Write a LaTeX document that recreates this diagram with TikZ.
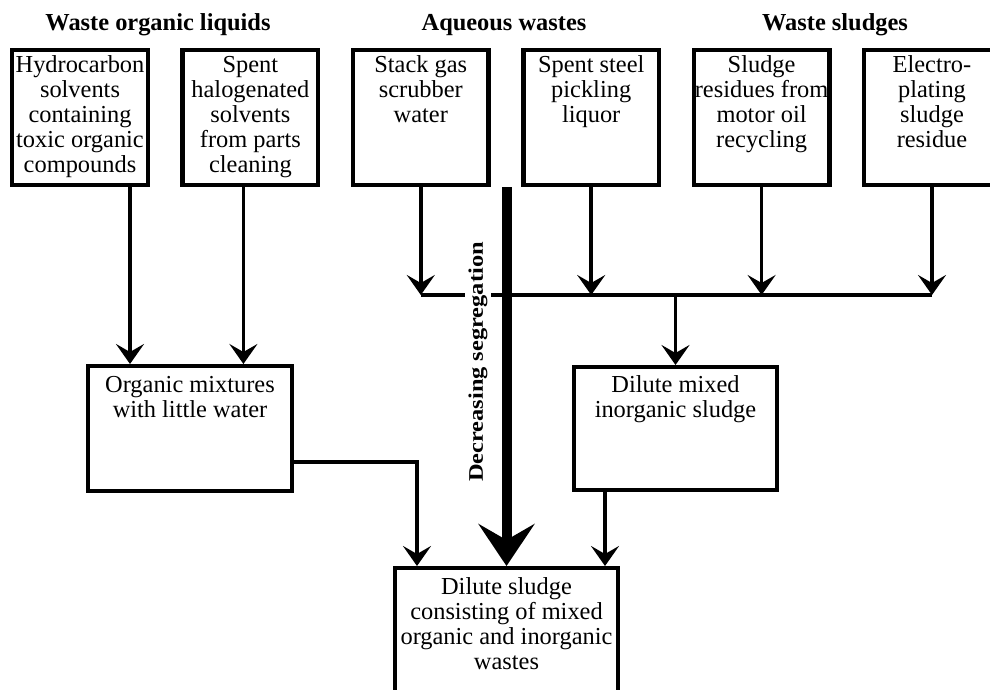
\documentclass[tikz,border=0pt]{standalone}
\usepackage{fontspec}
\setmainfont{Liberation Serif}
\usetikzlibrary{arrows.meta,positioning}
\newcommand{\boxtext}[3]{\parbox[t][#2][t]{#1}{\centering\strut #3}}
\tikzset{
  wastebox/.style={draw=black, line width=2.2pt, inner xsep=0pt, fill=none},
  source/.style={wastebox, inner ysep=2.65pt},
  heading/.style={anchor=base, font=\fontsize{12.2pt}{12.5pt}\selectfont\bfseries},
  flow/.style={-{Stealth[length=10pt, width=14pt, inset=4pt]}, line width=1.8pt, draw=black},
  bus/.style={line width=1.8pt, draw=black},
  bigflow/.style={-{Stealth[length=21pt, width=28pt, inset=8pt]}, line width=5pt, draw=black},
  seglabel/.style={rotate=90, fill=white, inner sep=2pt, font=\fontsize{12.2pt}{12.5pt}\selectfont\bfseries}
}
\begin{document}
\begin{tikzpicture}[x=0.5pt, y=-0.5pt, node distance=15.2pt, font=\fontsize{12.2pt}{12.5pt}\selectfont]
  \useasboundingbox (0,0) rectangle (990,690);
  % group headings
  \node[heading] (hol) at (158,31) {Waste organic liquids};
  \node[heading] (haq) at (504,31) {Aqueous wastes};
  \node[heading] (hsl) at (835,31) {Waste sludges};

  % waste sources
  \node[source, anchor=north west] (hc) at (10,48) {\boxtext{67.8pt}{62pt}{Hydrocarbon\\ solvents\\ containing\\ toxic organic\\ compounds}};
  \node[source, right=of hc] (hs) {\boxtext{67.8pt}{62pt}{Spent\\ halogenated\\ solvents\\ from parts\\ cleaning}};
  \node[source, right=of hs] (sg) {\boxtext{67.8pt}{62pt}{Stack gas\\ scrubber\\ water}};
  \node[source, right=of sg] (sp) {\boxtext{67.8pt}{62pt}{Spent steel\\ pickling\\ liquor}};
  \node[source, right=of sp] (mo) {\boxtext{67.8pt}{62pt}{Sludge\\ residues from\\ motor oil\\ recycling}};
  \node[source, right=of mo] (ep) {\boxtext{67.8pt}{62pt}{Electro-\\ plating\\ sludge\\ residue}};

  % mixtures
  \node[wastebox, inner ysep=4.15pt, anchor=north west] (om) at (86,364) {\boxtext{101.8pt}{54pt}{Organic mixtures\\ with little water}};
  \node[wastebox, inner ysep=3.65pt, anchor=north west] (dm) at (572,365) {\boxtext{101.3pt}{54pt}{Dilute mixed\\ inorganic sludge}};
  \node[wastebox, inner ysep=4.15pt, anchor=north west] (ds) at (393,566) {\boxtext{111.3pt}{62pt}{Dilute sludge\\ consisting of mixed\\ organic and inorganic\\ wastes}};

  % organic liquids
  \draw[flow] ([xshift=-10pt]hc.south east) -- ([xshift=-10pt]hc.south east |- om.north);
  \draw[flow] ([xshift=-3.5pt]hs.south) -- ([xshift=-3.5pt]hs.south |- om.north);

  % aqueous wastes and sludges onto the collector
  \coordinate (bus) at (0,295);
  \draw[flow] (sg.south) -- (sg.south |- bus);
  \draw[flow] (sp.south) -- (sp.south |- bus);
  \draw[flow] (mo.south) -- (mo.south |- bus);
  \draw[flow] (ep.south) -- (ep.south |- bus);
  \draw[bus] (sg.south |- bus) -- (ep.south |- bus);
  \draw[flow] (dm.north |- bus) -- (dm.north);

  % into the dilute sludge
  \draw[flow] ([yshift=15.5pt]om.south east) -| ([xshift=-44.75pt]ds.north);
  \draw[flow] ([xshift=-35.25pt]dm.south) -- ([xshift=-35.25pt]dm.south |- ds.north);

  % segregation
  \node[seglabel] (seg) at (478,362) {\scalebox{1}[0.85]{Decreasing segregation}};
  \coordinate (segtop) at (ds.north |- hc.south);
  \draw[bigflow] (segtop) -- (ds.north);
\end{tikzpicture}
\end{document}
